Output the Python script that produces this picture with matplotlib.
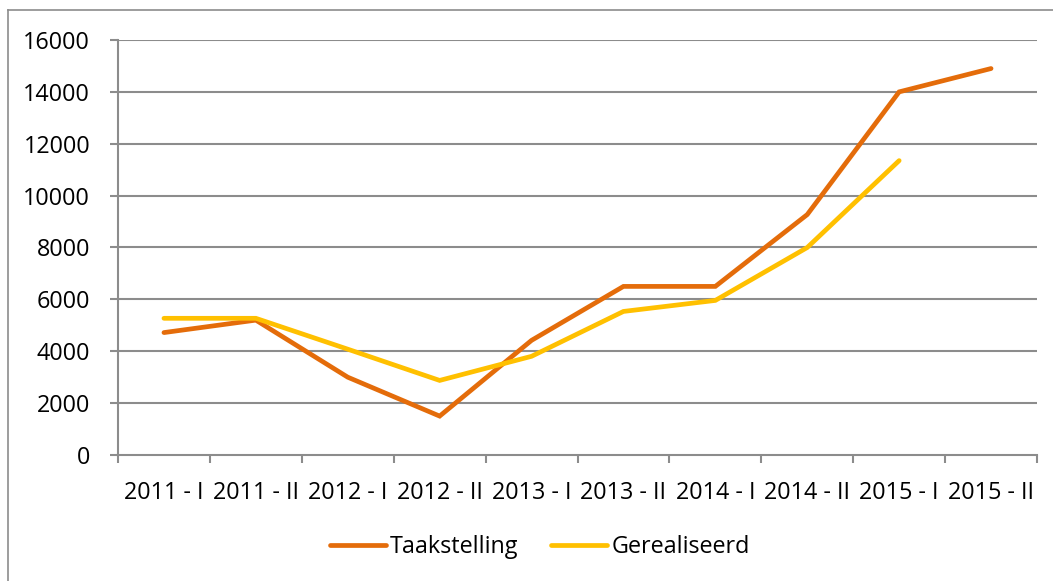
import matplotlib
matplotlib.use("Agg")
import matplotlib.pyplot as plt
from matplotlib.lines import Line2D
import numpy as np

categories = ["2011 - I", "2011 - II", "2012 - I", "2012 - II", "2013 - I",
              "2013 - II", "2014 - I", "2014 - II", "2015 - I", "2015 - II"]
taakstelling = [4720, 5200, 3000, 1500, 4420, 6500, 6500, 9270, 14000, 14900]
gerealiseerd = [5270, 5270, 4080, 2875, 3805, 5535, 5960, 8000, 11350, None]
y_ticks = [0, 2000, 4000, 6000, 8000, 10000, 12000, 14000, 16000]

plt.rcParams['font.family'] = ['Open Sans', 'DejaVu Sans']

W, H = 1053, 581
fig = plt.figure(figsize=(W / 100, H / 100), dpi=100)
ax = fig.add_axes([118 / W, 1 - 455 / H, (1037 - 118) / W, (455 - 40) / H])

x = np.arange(len(categories))
c_orange = "#E46C0A"
c_yellow = "#FFC000"
ax.plot(x, taakstelling, color=c_orange, lw=3.4, solid_capstyle="round",
        solid_joinstyle="miter", label="Taakstelling", zorder=3)
g = np.array([np.nan if v is None else v for v in gerealiseerd], dtype=float)
ax.plot(x, g, color=c_yellow, lw=3.4, solid_capstyle="round",
        solid_joinstyle="miter", label="Gerealiseerd", zorder=3)

ax.set_xlim(-0.5, len(categories) - 0.5)
ax.set_ylim(0, 16000)
ax.set_yticks(y_ticks)
ax.set_yticklabels([str(v) for v in y_ticks])
ax.set_xticks(x)
ax.set_xticklabels(categories)
ax.set_xticks(np.arange(-0.5, len(categories), 1), minor=True)

grid_c = "#8C8C8C"
for v in y_ticks[1:]:
    ax.axhline(v, color=grid_c, lw=1.5, zorder=1)

for s in ["top", "right"]:
    ax.spines[s].set_visible(False)
for s in ["left", "bottom"]:
    ax.spines[s].set_color(grid_c)
    ax.spines[s].set_linewidth(1.5)

fs = 16.8
ax.tick_params(axis="x", which="major", length=0, pad=19, labelsize=fs)
ax.tick_params(axis="x", which="minor", length=6, width=1.5, color=grid_c)
ax.tick_params(axis="y", which="major", length=6, width=1.5, color=grid_c,
               pad=14, labelsize=fs)

handles = [Line2D([0], [0], color=c_orange, lw=3.4, solid_capstyle="round"),
           Line2D([0], [0], color=c_yellow, lw=3.4, solid_capstyle="round")]
fig.legend(handles, ["Taakstelling", "Gerealiseerd"], loc="center",
           bbox_to_anchor=(540 / W, 1 - 547 / H), ncol=2, frameon=False,
           fontsize=fs, handlelength=2.4, handletextpad=0.2,
           columnspacing=1.4)

# outer chart border (top and left visible)
fig.add_artist(Line2D([8 / W, 8 / W], [0, 1 - 10 / H], transform=fig.transFigure,
                      color="#8C8C8C", lw=1.2))
fig.add_artist(Line2D([8 / W, 1], [1 - 10 / H, 1 - 10 / H], transform=fig.transFigure,
                      color="#8C8C8C", lw=1.2))

fig.savefig("out.png", dpi=100)
